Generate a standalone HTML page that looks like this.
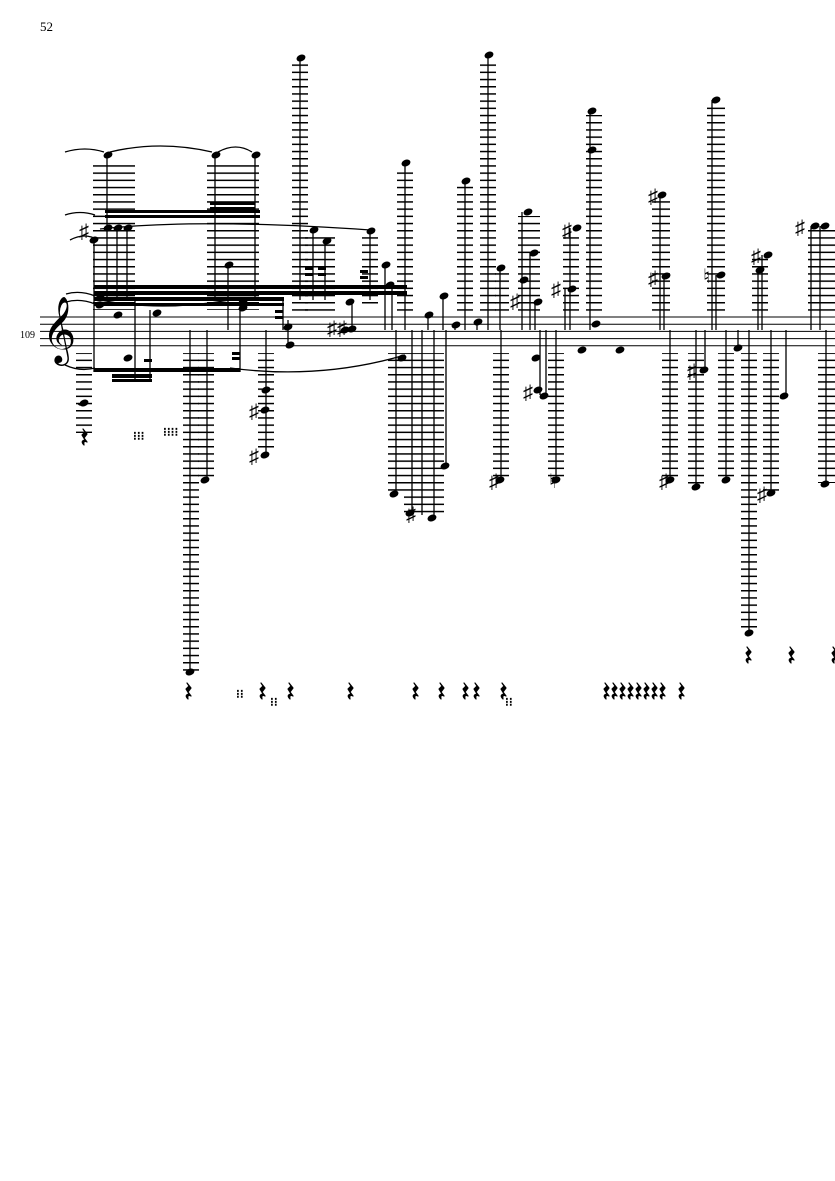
<!DOCTYPE html>
<html><head><meta charset="utf-8"><style>
html,body{margin:0;padding:0;background:#fff;width:835px;height:1181px;overflow:hidden}
svg{display:block}
text{font-family:"Liberation Serif",serif}
</style></head><body>
<svg width="835" height="1181" viewBox="0 0 835 1181" xmlns="http://www.w3.org/2000/svg">
<defs>
<pattern id="ld" patternUnits="userSpaceOnUse" x="0" y="316.4" width="835" height="7.2">
<rect x="0" y="0" width="835" height="1.5" fill="#000"/>
</pattern>
<ellipse id="nh" cx="0" cy="0" rx="4.6" ry="3.3" transform="rotate(-22)" fill="#000"/>
<path id="rs" d="M-1 -9 L3 -4 L0 0 L3 4 Q-1 2 0 7 Q-4 3 1 2 L-2 -3 L1 -6 Z" fill="#000" stroke="#000" stroke-width="1.2" stroke-linejoin="round"/>
</defs>
<text x="40" y="31" font-size="13">52</text>
<text x="20" y="338" font-size="10">109</text>
<!-- staff -->
<g stroke="#000" stroke-width="1">
<line x1="40" y1="317" x2="835" y2="317"/><line x1="40" y1="324.2" x2="835" y2="324.2"/>
<line x1="40" y1="331.4" x2="835" y2="331.4"/><line x1="40" y1="338.6" x2="835" y2="338.6"/>
<line x1="40" y1="345.8" x2="835" y2="345.8"/>
</g>
<text x="42" y="349" font-size="58" font-family="DejaVu Sans">𝄞</text>
<!-- upper ladders -->
<g fill="url(#ld)">
<rect x="93" y="160" width="42" height="150"/>
<rect x="207" y="160" width="52" height="150"/>
<rect x="292" y="62" width="16" height="250"/>
<rect x="305" y="233" width="30" height="80"/>
<rect x="362" y="236" width="16" height="70"/>
<rect x="397" y="168" width="16" height="145"/>
<rect x="457" y="185" width="16" height="128"/>
<rect x="480" y="60" width="16" height="253"/>
<rect x="495" y="272" width="14" height="40"/>
<rect x="518" y="216" width="22" height="97"/>
<rect x="563" y="232" width="16" height="81"/>
<rect x="586" y="115" width="16" height="198"/>
<rect x="652" y="199" width="18" height="114"/>
<rect x="707" y="104" width="18" height="209"/>
<rect x="752" y="258" width="16" height="55"/>
<rect x="808" y="229" width="27" height="84"/>
</g>
<!-- lower ladders -->
<g fill="url(#ld)">
<rect x="76" y="353" width="16" height="80"/>
<rect x="183" y="353" width="16" height="318"/>
<rect x="198" y="353" width="16" height="125"/>
<rect x="258" y="353" width="16" height="100"/>
<rect x="388" y="353" width="16" height="140"/>
<rect x="404" y="353" width="40" height="164"/>
<rect x="493" y="353" width="16" height="126"/>
<rect x="548" y="353" width="16" height="126"/>
<rect x="662" y="353" width="16" height="126"/>
<rect x="688" y="353" width="16" height="133"/>
<rect x="718" y="353" width="16" height="126"/>
<rect x="741" y="353" width="16" height="280"/>
<rect x="763" y="353" width="16" height="140"/>
<rect x="818" y="353" width="17" height="130"/>
</g>
<!-- stems -->
<g stroke="#000" stroke-width="1.3">
<line x1="94" y1="240" x2="94" y2="372"/><line x1="107" y1="155" x2="107" y2="300"/>
<line x1="117" y1="228" x2="117" y2="300"/><line x1="127" y1="228" x2="127" y2="300"/>
<line x1="135" y1="300" x2="135" y2="380"/><line x1="150" y1="310" x2="150" y2="380"/>
<line x1="215" y1="155" x2="215" y2="300"/><line x1="228" y1="265" x2="228" y2="330"/>
<line x1="240" y1="300" x2="240" y2="372"/><line x1="255" y1="155" x2="255" y2="300"/>
<line x1="283" y1="300" x2="283" y2="330"/>
<line x1="300" y1="57" x2="300" y2="300"/><line x1="313" y1="230" x2="313" y2="300"/>
<line x1="325" y1="241" x2="325" y2="300"/><line x1="370" y1="230" x2="370" y2="300"/>
<line x1="385" y1="265" x2="385" y2="330"/><line x1="392" y1="285" x2="392" y2="330"/>
<line x1="405" y1="163" x2="405" y2="330"/><line x1="288" y1="345" x2="288" y2="320"/>
<line x1="352" y1="330" x2="352" y2="303"/>
<line x1="428" y1="315" x2="428" y2="330"/><line x1="443" y1="296" x2="443" y2="330"/>
<line x1="465" y1="181" x2="465" y2="330"/><line x1="488" y1="55" x2="488" y2="330"/>
<line x1="500" y1="268" x2="500" y2="330"/><line x1="455" y1="325" x2="455" y2="330"/>
<line x1="477" y1="322" x2="477" y2="330"/>
<line x1="522" y1="212" x2="522" y2="330"/><line x1="530" y1="253" x2="530" y2="330"/>
<line x1="535" y1="302" x2="535" y2="330"/><line x1="570" y1="228" x2="570" y2="330"/>
<line x1="565" y1="288" x2="565" y2="330"/><line x1="590" y1="112" x2="590" y2="330"/>
<line x1="660" y1="195" x2="660" y2="330"/><line x1="664" y1="276" x2="664" y2="330"/>
<line x1="712" y1="100" x2="712" y2="330"/><line x1="716" y1="275" x2="716" y2="330"/>
<line x1="758" y1="270" x2="758" y2="330"/><line x1="762" y1="255" x2="762" y2="330"/>
<line x1="811" y1="226" x2="811" y2="330"/><line x1="820" y1="226" x2="820" y2="330"/>
<line x1="190" y1="330" x2="190" y2="672"/><line x1="207" y1="330" x2="207" y2="480"/>
<line x1="266" y1="330" x2="266" y2="455"/><line x1="396" y1="330" x2="396" y2="494"/>
<line x1="412" y1="330" x2="412" y2="515"/><line x1="422" y1="330" x2="422" y2="515"/>
<line x1="434" y1="330" x2="434" y2="518"/><line x1="446" y1="330" x2="446" y2="466"/>
<line x1="501" y1="330" x2="501" y2="480"/><line x1="540" y1="330" x2="540" y2="395"/>
<line x1="546" y1="330" x2="546" y2="395"/><line x1="556" y1="330" x2="556" y2="480"/>
<line x1="670" y1="330" x2="670" y2="480"/><line x1="696" y1="330" x2="696" y2="487"/>
<line x1="726" y1="330" x2="726" y2="480"/><line x1="749" y1="330" x2="749" y2="633"/>
<line x1="771" y1="330" x2="771" y2="493"/><line x1="786" y1="330" x2="786" y2="396"/>
<line x1="826" y1="330" x2="826" y2="484"/><line x1="705" y1="330" x2="705" y2="370"/>
<line x1="738" y1="330" x2="738" y2="348"/>
</g>
<!-- beams -->
<g fill="#000">
<rect x="94" y="285" width="313" height="4"/><rect x="94" y="291" width="313" height="4"/>
<rect x="94" y="297" width="190" height="4"/><rect x="94" y="303" width="190" height="3"/>
<rect x="105" y="210" width="155" height="3"/><rect x="105" y="215" width="155" height="3"/>
<rect x="210" y="202" width="45" height="3"/><rect x="210" y="207" width="45" height="3"/>
<rect x="94" y="368" width="146" height="4"/><rect x="112" y="374" width="40" height="4"/>
<rect x="112" y="379" width="40" height="3"/>
<rect x="144" y="359" width="8" height="3"/><rect x="232" y="352" width="8" height="3"/><rect x="232" y="357" width="8" height="3"/>
<rect x="275" y="310" width="8" height="3"/><rect x="275" y="316" width="8" height="3"/>
<rect x="305" y="267" width="8" height="3"/><rect x="318" y="267" width="8" height="3"/>
<rect x="305" y="273" width="8" height="3"/><rect x="318" y="273" width="8" height="3"/>
<rect x="360" y="270" width="8" height="3"/><rect x="360" y="276" width="8" height="3"/>
</g>
<!-- noteheads -->
<g>
<use href="#nh" x="94" y="240"/><use href="#nh" x="108" y="228"/><use href="#nh" x="108" y="155"/>
<use href="#nh" x="118" y="228"/><use href="#nh" x="128" y="228"/><use href="#nh" x="100" y="298"/>
<use href="#nh" x="100" y="305"/><use href="#nh" x="118" y="315"/><use href="#nh" x="128" y="358"/>
<use href="#nh" x="157" y="313"/>
<use href="#nh" x="216" y="155"/><use href="#nh" x="256" y="155"/><use href="#nh" x="229" y="265"/>
<use href="#nh" x="243" y="302"/><use href="#nh" x="243" y="308"/><use href="#nh" x="288" y="327"/>
<use href="#nh" x="301" y="58"/><use href="#nh" x="314" y="230"/><use href="#nh" x="327" y="241"/>
<use href="#nh" x="350" y="302"/><use href="#nh" x="352" y="329"/><use href="#nh" x="345" y="330"/>
<use href="#nh" x="371" y="231"/><use href="#nh" x="386" y="265"/><use href="#nh" x="390" y="285"/>
<use href="#nh" x="406" y="163"/><use href="#nh" x="402" y="358"/><use href="#nh" x="429" y="315"/>
<use href="#nh" x="444" y="296"/><use href="#nh" x="456" y="325"/><use href="#nh" x="478" y="322"/>
<use href="#nh" x="466" y="181"/><use href="#nh" x="489" y="55"/><use href="#nh" x="501" y="268"/>
<use href="#nh" x="528" y="212"/><use href="#nh" x="534" y="253"/><use href="#nh" x="538" y="302"/>
<use href="#nh" x="572" y="289"/><use href="#nh" x="577" y="228"/><use href="#nh" x="592" y="111"/>
<use href="#nh" x="592" y="150"/><use href="#nh" x="596" y="324"/><use href="#nh" x="582" y="350"/>
<use href="#nh" x="620" y="350"/>
<use href="#nh" x="662" y="195"/><use href="#nh" x="666" y="276"/><use href="#nh" x="716" y="100"/>
<use href="#nh" x="721" y="275"/><use href="#nh" x="760" y="270"/><use href="#nh" x="768" y="255"/>
<use href="#nh" x="815" y="226"/><use href="#nh" x="825" y="226"/><use href="#nh" x="738" y="348"/>
<use href="#nh" x="84" y="403"/>
<use href="#nh" x="190" y="672"/><use href="#nh" x="205" y="480"/><use href="#nh" x="265" y="455"/>
<use href="#nh" x="265" y="410"/><use href="#nh" x="266" y="390"/><use href="#nh" x="394" y="494"/>
<use href="#nh" x="410" y="513"/><use href="#nh" x="432" y="518"/><use href="#nh" x="445" y="466"/>
<use href="#nh" x="500" y="480"/><use href="#nh" x="536" y="358"/><use href="#nh" x="538" y="390"/>
<use href="#nh" x="544" y="396"/><use href="#nh" x="556" y="480"/><use href="#nh" x="670" y="480"/>
<use href="#nh" x="696" y="487"/><use href="#nh" x="726" y="480"/><use href="#nh" x="704" y="370"/>
<use href="#nh" x="749" y="633"/><use href="#nh" x="771" y="493"/><use href="#nh" x="784" y="396"/>
<use href="#nh" x="825" y="484"/><use href="#nh" x="290" y="345"/><use href="#nh" x="524" y="280"/>
</g>
<!-- accidentals -->
<g font-size="20" font-family="DejaVu Sans" fill="#000">
<text x="79" y="238">♯</text><text x="327" y="335">♯♯</text><text x="249" y="418">♯</text>
<text x="249" y="463">♯</text><text x="406" y="521">♯</text><text x="489" y="488">♯</text>
<text x="523" y="399">♯</text><text x="549" y="488">♮</text><text x="510" y="308">♯</text>
<text x="551" y="296">♯</text><text x="562" y="237">♯</text><text x="648" y="203">♯</text>
<text x="648" y="285">♯</text><text x="703" y="283">♮</text><text x="751" y="263">♯</text>
<text x="795" y="234">♯</text><text x="659" y="488">♯</text><text x="687" y="378">♯</text>
<text x="757" y="501">♯</text>
</g>
<!-- slurs/ties -->
<g fill="none" stroke="#000" stroke-width="1.3">
<path d="M65 152 Q85 146 104 152"/><path d="M110 152 Q160 140 212 152"/><path d="M218 152 Q236 142 252 152"/>
<path d="M65 215 Q80 210 95 215"/><path d="M70 240 Q85 232 98 240"/>
<path d="M100 229 Q200 218 370 230"/><path d="M66 294 Q80 290 95 296"/><path d="M66 302 Q80 298 95 304"/>
<path d="M65 365 Q80 372 95 368"/><path d="M230 368 Q320 380 405 355"/><path d="M100 300 Q160 312 230 300"/>
<path d="M78 403 Q80 408 86 400"/>
</g>
<!-- rests -->
<g>
<use href="#rs" x="84" y="438"/>
<use href="#rs" x="188" y="692"/><use href="#rs" x="290" y="692"/><use href="#rs" x="262" y="692"/>
<use href="#rs" x="350" y="692"/><use href="#rs" x="415" y="692"/><use href="#rs" x="441" y="692"/>
<use href="#rs" x="465" y="692"/><use href="#rs" x="476" y="692"/><use href="#rs" x="503" y="692"/>
<use href="#rs" x="606" y="692"/><use href="#rs" x="614" y="692"/><use href="#rs" x="622" y="692"/>
<use href="#rs" x="630" y="692"/><use href="#rs" x="638" y="692"/><use href="#rs" x="646" y="692"/>
<use href="#rs" x="654" y="692"/><use href="#rs" x="662" y="692"/><use href="#rs" x="681" y="692"/>
<use href="#rs" x="748" y="656"/><use href="#rs" x="791" y="656"/><use href="#rs" x="834" y="656"/>
</g>
<g font-size="12" font-weight="bold" fill="#000">
<text x="133" y="440">⁝⁝⁝</text><text x="163" y="436">⁝⁝⁝⁝</text><text x="236" y="698">⁝⁝</text>
<text x="270" y="706">⁝⁝</text><text x="505" y="706">⁝⁝</text>
</g>
</svg>
</body></html>
